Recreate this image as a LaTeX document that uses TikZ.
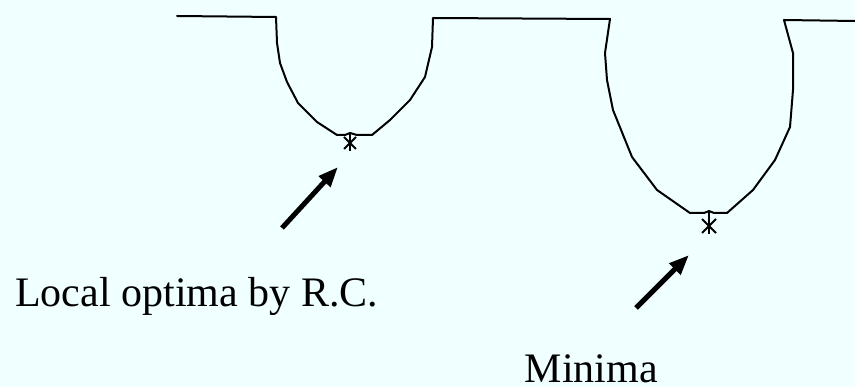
\documentclass[tikz,border=0pt]{standalone}
\usepackage{fontspec}
\setmainfont{Liberation Serif}
\usetikzlibrary{arrows.meta}
\definecolor{bgcyan}{HTML}{F0FFFF}
\tikzset{
  landscape/.style={line width=2pt, line join=round, line cap=round},
  startick/.style={line width=1.8pt},
  bigarrow/.style={line width=5pt, -{Triangle[length=20pt,width=15pt]}, shorten <=0pt},
  lbl/.style={inner sep=0pt, font=\fontsize{42}{50}\selectfont}
}
\begin{document}
\begin{tikzpicture}[x=1pt,y=-1pt]
\fill[bgcyan] (0,0) rectangle (855,387);
\useasboundingbox (0,0) rectangle (855,387);
% landscape
\draw[landscape] (177,16) -- (276,17) -- (277,43) -- (280,63) -- (287,82) -- (298,103) -- (317,122) -- (337,135)
  -- (345,135) -- (350,133) -- (357,135) -- (372,135) -- (390,120) -- (410,100) -- (425,77) -- (432,47) -- (433,18)
  -- (610,19) -- (605,53) -- (607,80) -- (613,110) -- (632,157) -- (657,190) -- (690,213) -- (704,213) -- (709,211)
  -- (714,213) -- (727,213) -- (753,190) -- (775,160) -- (790,127) -- (793,90) -- (793,53) -- (784,20) -- (855,21);
% stars
\coordinate (s1) at (350,143);
\coordinate (s2) at (709,226);
\draw[startick] (350,133) -- (350,151) (344,137) -- (356,149) (356,137) -- (344,149);
\draw[startick] (709,212) -- (709,234) (702,219) -- (716,233) (716,219) -- (702,233);
% arrows
\coordinate (a1tail) at (282,228);
\coordinate (a1tip) at (338,167);
\coordinate (a2tail) at (636,308);
\coordinate (a2tip) at (689,255);
\draw[bigarrow] (a1tail) -- (a1tip);
\draw[bigarrow] (a2tail) -- (a2tip);
% labels
\node[lbl, anchor=base west] (local) at (15,307) {Local optima by R.C.};
\node[lbl, anchor=base east] (minima) at (658,383) {Minima};
\end{tikzpicture}
\end{document}
